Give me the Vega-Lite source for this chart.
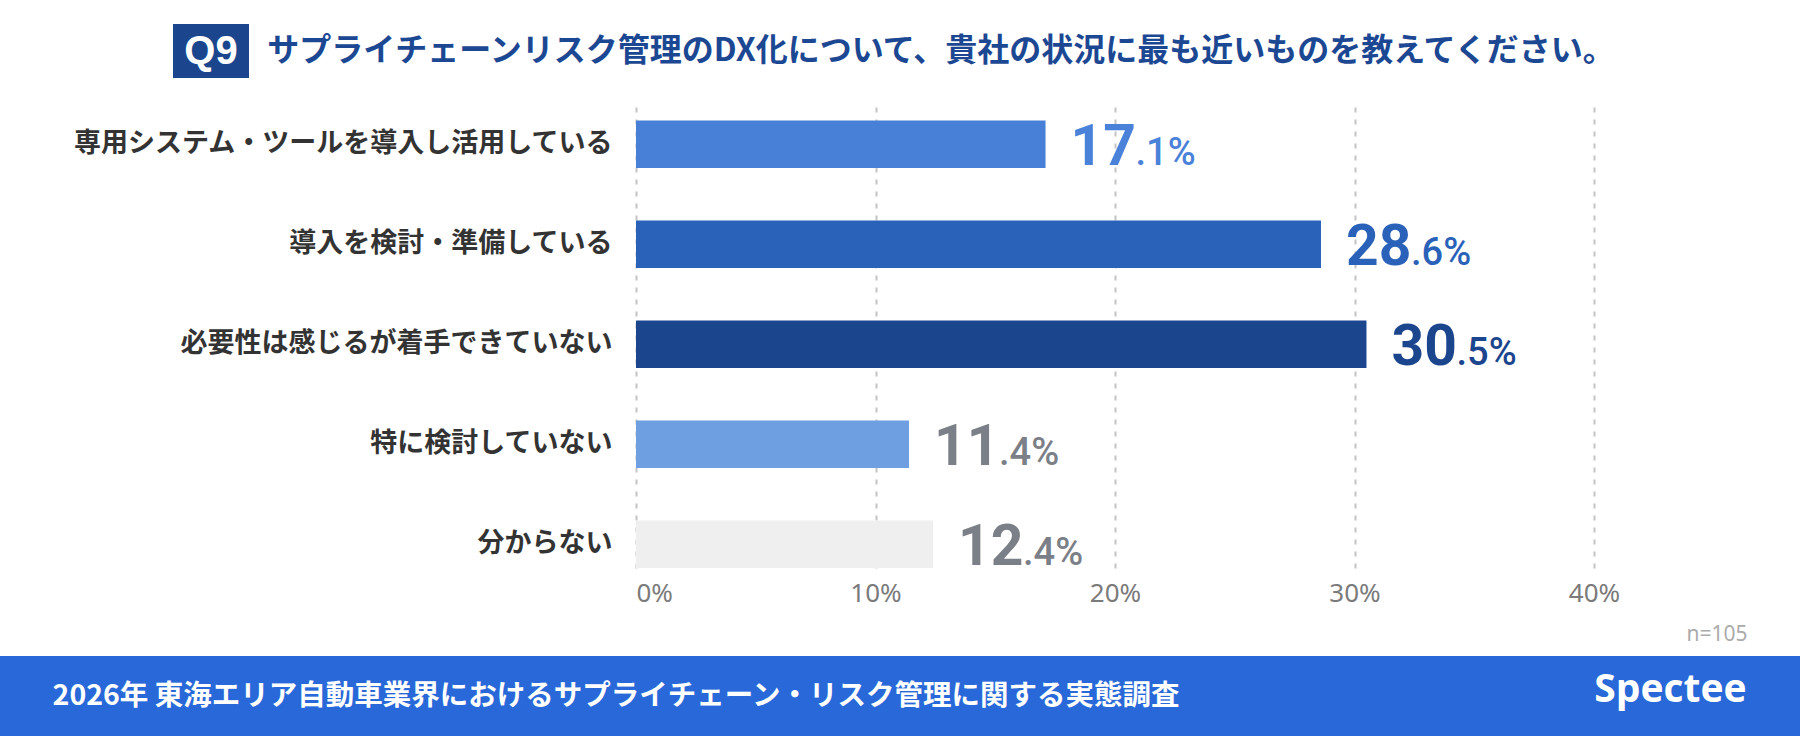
{
  "$schema": "https://vega.github.io/schema/vega-lite/v6.json",
  "padding": {"top": 24, "left": 0, "right": 0, "bottom": 0},
  "autosize": {"type": "pad"},
  "background": "#ffffff",
  "spacing": 0,
  "bounds": "full",
  "config": {
    "view": {"stroke": null},
    "font": "Noto Sans CJK JP"
  },
  "datasets": {
    "answers": [
      {"cat": "専用システム・ツールを導入し活用している", "value": 17.1, "major": "17", "minor": ".1%"},
      {"cat": "導入を検討・準備している", "value": 28.6, "major": "28", "minor": ".6%"},
      {"cat": "必要性は感じるが着手できていない", "value": 30.5, "major": "30", "minor": ".5%"},
      {"cat": "特に検討していない", "value": 11.4, "major": "11", "minor": ".4%"},
      {"cat": "分からない", "value": 12.4, "major": "12", "minor": ".4%"}
    ]
  },
  "vconcat": [
    {
      "spacing": 0,
      "bounds": "flush",
      "hconcat": [
        {"width": 173, "height": 54, "data": {"values": []}, "mark": "point"},
        {
          "width": 76, "height": 54,
          "view": {"fill": "#1B468E", "stroke": null},
          "data": {"values": [{"q": "Q9"}]},
          "mark": {"type": "text", "color": "#ffffff", "font": "Liberation Sans", "fontSize": 40, "fontWeight": "bold", "baseline": "middle", "align": "center", "dy": 1},
          "encoding": {"text": {"field": "q", "type": "nominal"}}
        },
        {"width": 26, "height": 54, "data": {"values": []}, "mark": "point"},
        {
          "width": 1332, "height": 54,
          "data": {"values": [{"t": "サプライチェーンリスク管理のDX化について、貴社の状況に最も近いものを教えてください。"}]},
          "mark": {"type": "text", "color": "#1C4893", "font": "Noto Sans CJK JP", "fontSize": 32, "fontWeight": "bold", "baseline": "middle", "align": "center"},
          "encoding": {"text": {"field": "t", "type": "nominal"}}
        }
      ]
    },
    {"width": 1, "height": 23, "data": {"values": []}, "mark": "point"},
    {
      "spacing": 0,
      "bounds": "flush",
      "hconcat": [
        {"width": 636, "height": 467, "data": {"values": []}, "mark": "point"},
        {
          "width": 958, "height": 467,
          "data": {"name": "answers"},
          "encoding": {
            "y": {
              "field": "cat", "type": "nominal", "sort": null,
              "scale": {"paddingInner": 0.525, "paddingOuter": 0.0975, "align": 1},
              "axis": {
                "title": null, "domain": false, "ticks": false, "grid": false,
                "labelFont": "Noto Sans CJK JP", "labelFontSize": 27, "labelFontWeight": "bold",
                "labelColor": "#333333", "labelPadding": 24, "labelLimit": 800
              }
            },
            "x": {
              "field": "value", "type": "quantitative",
              "scale": {"domain": [0, 40], "nice": false, "zero": true},
              "axis": {
                "title": null, "values": [0, 10, 20, 30, 40],
                "labelExpr": "datum.value + '%'",
                "domain": false, "ticks": false,
                "grid": true, "gridDash": [5, 7], "gridColor": "#C4C4C4", "gridWidth": 2,
                "labelFont": "Noto Sans", "labelFontSize": 26, "labelColor": "#7B7B7B",
                "labelPadding": 12, "labelFlush": false,
                "labelAlign": {"condition": {"test": "datum.value === 0", "value": "left"}, "value": "center"}
              }
            }
          },
          "layer": [
            {
              "mark": {"type": "bar"},
              "encoding": {
                "color": {
                  "field": "cat", "type": "nominal", "legend": null,
                  "scale": {
                    "domain": ["専用システム・ツールを導入し活用している", "導入を検討・準備している", "必要性は感じるが着手できていない", "特に検討していない", "分からない"],
                    "range": ["#4880D8", "#2962B8", "#1B468E", "#6EA0E1", "#EFEFEF"]
                  }
                }
              }
            },
            {
              "mark": {"type": "text", "align": "left", "baseline": "alphabetic", "dx": 25, "dy": 21, "font": "Roboto", "fontSize": 57, "fontWeight": "bold"},
              "encoding": {
                "text": {"field": "major", "type": "nominal"},
                "color": {
                  "field": "cat", "type": "nominal", "legend": null,
                  "scale": {
                    "domain": ["専用システム・ツールを導入し活用している", "導入を検討・準備している", "必要性は感じるが着手できていない", "特に検討していない", "分からない"],
                    "range": ["#4A82D9", "#2962B8", "#1B468E", "#7B7F87", "#7B7F87"]
                  }
                }
              }
            },
            {
              "mark": {"type": "text", "align": "left", "baseline": "alphabetic", "dx": 90, "dy": 21, "font": "Roboto", "fontSize": 38, "fontWeight": 500},
              "encoding": {
                "text": {"field": "minor", "type": "nominal"},
                "color": {
                  "field": "cat", "type": "nominal", "legend": null,
                  "scale": {
                    "domain": ["専用システム・ツールを導入し活用している", "導入を検討・準備している", "必要性は感じるが着手できていない", "特に検討していない", "分からない"],
                    "range": ["#4A82D9", "#2962B8", "#1B468E", "#7B7F87", "#7B7F87"]
                  }
                }
              }
            }
          ],
          "resolve": {"scale": {"color": "independent"}}
        }
      ]
    },
    {
      "spacing": 0,
      "bounds": "flush",
      "hconcat": [
        {"width": 1667, "height": 50, "data": {"values": []}, "mark": "point"},
        {
          "width": 100, "height": 50,
          "data": {"values": [{"n": "n=105"}]},
          "mark": {"type": "text", "color": "#ABABAB", "font": "Noto Sans", "fontSize": 21, "baseline": "middle", "align": "center", "dy": 4},
          "encoding": {"text": {"field": "n", "type": "nominal"}}
        }
      ]
    },
    {
      "spacing": 0,
      "bounds": "flush",
      "hconcat": [
        {
          "width": 1232, "height": 80,
          "view": {"fill": "#2868D8", "stroke": null},
          "data": {"values": [{"t": "2026年 東海エリア自動車業界におけるサプライチェーン・リスク管理に関する実態調査"}]},
          "mark": {"type": "text", "color": "#ffffff", "font": "Noto Sans CJK JP", "fontSize": 28.5, "fontWeight": "bold", "baseline": "middle", "align": "center"},
          "encoding": {"text": {"field": "t", "type": "nominal"}}
        },
        {
          "width": 358, "height": 80,
          "view": {"fill": "#2868D8", "stroke": null},
          "data": {"values": []}, "mark": "point"
        },
        {
          "width": 161, "height": 80,
          "view": {"fill": "#2868D8", "stroke": null},
          "data": {"values": [{"t": "Spectee"}]},
          "mark": {"type": "text", "color": "#ffffff", "font": "Open Sans", "fontSize": 39, "fontWeight": "bold", "baseline": "middle", "align": "center", "dy": -6},
          "encoding": {"text": {"field": "t", "type": "nominal"}}
        },
        {
          "width": 49, "height": 80,
          "view": {"fill": "#2868D8", "stroke": null},
          "data": {"values": []}, "mark": "point"
        }
      ]
    }
  ]
}
